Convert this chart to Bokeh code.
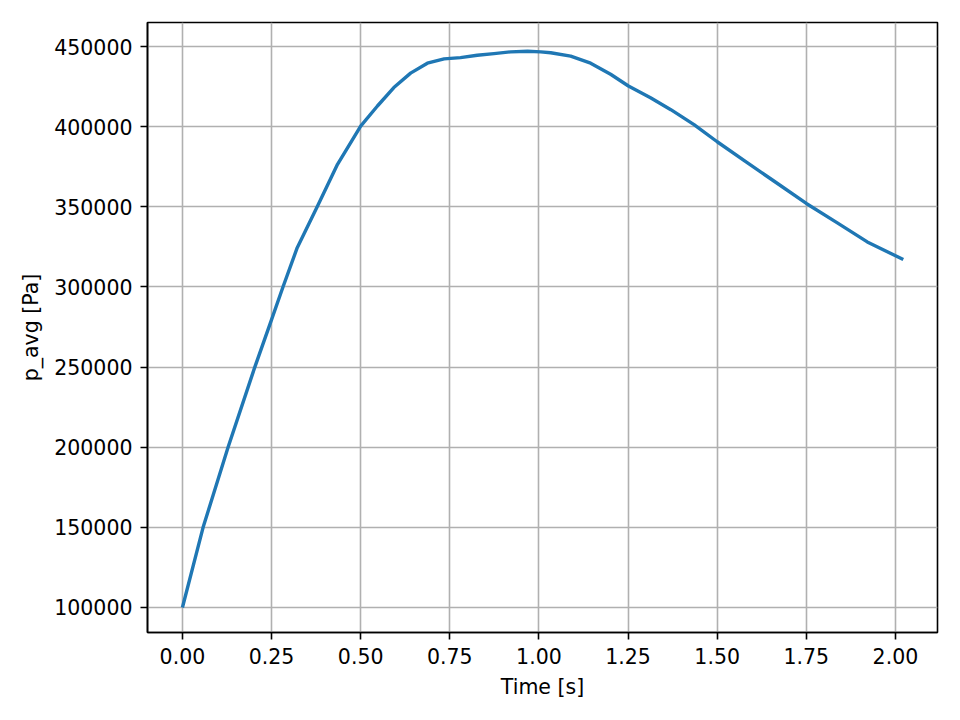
from bokeh.plotting import figure
from bokeh.models import FixedTicker, NumeralTickFormatter, Range1d, ColumnDataSource
from bokeh.embed import file_html
from bokeh.resources import INLINE

time_s = [0.0, 0.058, 0.128, 0.203, 0.25, 0.282, 0.322, 0.378, 0.435, 0.5,
          0.547, 0.593, 0.640, 0.687, 0.734, 0.780, 0.827, 0.874, 0.921, 0.968,
          1.005, 1.033, 1.089, 1.145, 1.201, 1.251, 1.313, 1.37, 1.435, 1.5,
          1.575, 1.659, 1.75, 1.837, 1.921, 2.022]
p_avg = [100000, 150000, 200000, 250000, 279600, 300000, 324500, 350000, 376500, 400400,
         412900, 424400, 433400, 439600, 442300, 443100, 444600, 445600, 446700, 447100,
         446700, 446100, 444000, 439600, 432700, 425400, 418100, 410600, 401300, 390600,
         379000, 366100, 352100, 340000, 328100, 317100]

x_ticks = [0.0, 0.25, 0.5, 0.75, 1.0, 1.25, 1.5, 1.75, 2.0]
y_ticks = [100000, 150000, 200000, 250000, 300000, 350000, 400000, 450000]

FONT = "DejaVu Sans"
FS = "20.5px"

p = figure(frame_width=790, frame_height=610,
           min_border_left=147, min_border_right=7, min_border_top=22, min_border_bottom=72,
           output_backend="svg", toolbar_location=None,
           x_range=Range1d(-0.098, 2.118), y_range=Range1d(84400, 465000))

src = ColumnDataSource(dict(t=time_s, p=p_avg))
p.line("t", "p", source=src, line_color="#1f77b4", line_width=3.4, line_join="round")

p.xaxis.ticker = FixedTicker(ticks=x_ticks)
p.yaxis.ticker = FixedTicker(ticks=y_ticks)
p.xaxis.formatter = NumeralTickFormatter(format="0.00")
p.yaxis.formatter = NumeralTickFormatter(format="0")
p.xaxis.axis_label = "Time [s]"
p.yaxis.axis_label = "p_avg [Pa]"

for ax in (p.xaxis, p.yaxis):
    ax.major_label_text_font = FONT
    ax.major_label_text_font_size = FS
    ax.major_label_text_color = "black"
    ax.axis_label_text_font = FONT
    ax.axis_label_text_font_size = FS
    ax.axis_label_text_font_style = "normal"
    ax.axis_label_text_color = "black"
    ax.axis_line_color = "black"
    ax.axis_line_width = 1.6
    ax.major_tick_line_color = "black"
    ax.major_tick_line_width = 1.6
    ax.major_tick_out = 7
    ax.major_tick_in = 0
    ax.minor_tick_line_color = None
    ax.major_label_standoff = 8
    ax.axis_label_standoff = 8

p.yaxis.major_label_orientation = "horizontal"

p.xgrid.ticker = FixedTicker(ticks=x_ticks)
p.ygrid.ticker = FixedTicker(ticks=y_ticks)
for g in (p.xgrid, p.ygrid):
    g.grid_line_color = "#b0b0b0"
    g.grid_line_width = 1.6
    g.grid_line_alpha = 1.0

p.outline_line_color = "black"
p.outline_line_width = 1.6
p.outline_line_alpha = 1.0
p.background_fill_color = "white"
p.border_fill_color = "white"

open("out.html", "w").write(file_html(p, INLINE))
